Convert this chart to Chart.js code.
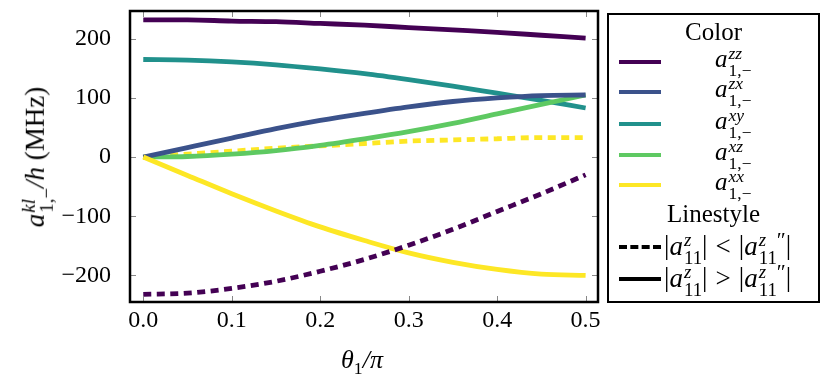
<!DOCTYPE html>
<html lang="en">
<head>
  <meta charset="UTF-8" />
  <title>a_1,- components vs theta</title>
  <script src="https://cdn.jsdelivr.net/npm/chart.js"></script>
  <style>
    body {
      margin: 0;
      background: #fff;
      font-family: "Liberation Serif", serif;
    }
    .wrap {
      position: relative;
      width: 831px;
      height: 388px;
    }
    .m { font-style: italic; white-space: nowrap; }
    .ss {
      display: inline-block;
      vertical-align: -0.5em;
      line-height: 0.95;
      font-size: 0.7em;
      margin-left: 1px;
      text-align: left;
    }
    .ss span { display: block; }
    .up { font-style: normal; }
    .pr { font-style: normal; font-size: 0.8em; vertical-align: 0.35em; margin-left: 0; }
    .op { margin: 0 8px; }
    #ytitle {
      position: absolute;
      left: 38px;
      top: 157px;
      transform: translate(-50%, -50%) rotate(-90deg);
      font-size: 27px;
      white-space: nowrap;
    }
    #xtitle {
      position: absolute;
      left: 362px;
      top: 362px;
      transform: translate(-50%, -50%);
      font-size: 26px;
    }
    #legend {
      position: absolute;
      left: 607px;
      top: 13px;
      width: 209px;
      height: 286px;
      border: 2.5px solid #000;
      font-size: 25px;
    }
    .lrow {
      position: absolute;
      left: 0;
      width: 100%;
      height: 30px;
    }
    .sw {
      position: absolute;
      left: 10px;
      top: 13px;
      width: 42px;
      height: 0;
    }
    .lab {
      position: absolute;
      top: 50%;
      transform: translateY(-50%);
      white-space: nowrap;
    }
    .big { font-size: 27px; }
    .head {
      position: absolute;
      width: 100%;
      text-align: center;
    }
  </style>
</head>
<body>
  <div class="wrap">
    <canvas id="chart" width="831" height="388"></canvas>
    <div id="ytitle"><span class="m">a<span class="ss"><span>kl</span><span class="up">1,−</span></span></span><span class="m">/h</span> <span class="up">(MHz)</span></div>
    <div id="xtitle"><span class="m">θ</span><span style="font-size:0.68em;vertical-align:-0.3em">1</span><span class="m">/π</span></div>
    <div id="legend"></div>
  </div>

  <script>
    const thetas = [0, 0.05, 0.1, 0.15, 0.2, 0.25, 0.3, 0.35, 0.4, 0.45, 0.5];

    const zzSolid  = [232, 232, 230, 229, 226, 223, 219, 215, 211, 206, 201];
    const zzDashed = [-232, -230, -222, -210, -193, -173, -149, -122, -92, -62, -30];
    const zxSolid  = [0, 16, 32, 48, 62, 74, 85, 94, 100, 104, 105];
    const xySolid  = [165, 164, 161, 156, 149, 141, 131, 120, 108, 96, 83];
    const xzSolid  = [0, 1, 5, 11, 20, 31, 43, 57, 73, 89, 105];
    const xxDashed = [0, 5, 10, 15, 19, 23, 27, 29, 31, 33, 33];
    const xxSolid  = [0, -31, -62, -91, -118, -141, -162, -178, -190, -198, -200];

    const colorNames = ['zz', 'zx', 'xy', 'xz', 'xx'];
    const colors = ['#440154', '#3b528b', '#21918c', '#5ec962', '#fde725'];
    const xTicks = [0, 0.1, 0.2, 0.3, 0.4, 0.5];
    const yTicks = [-200, -100, 0, 100, 200];

    const DASH = [8, 5.5];

    function mk(values, ci, dashed) {
      return {
        data: thetas.map((t, i) => ({ x: t, y: values[i] })),
        borderColor: colors[ci],
        borderWidth: 4.8,
        borderDash: dashed ? DASH : [],
        borderCapStyle: 'butt',
        pointRadius: 0,
        fill: false,
        cubicInterpolationMode: 'monotone'
      };
    }

    // draw order roughly as in the figure
    const datasets = [
      mk(zzDashed, 0, true),
      mk(zzSolid, 0, false),
      mk(xxSolid, 4, false),
      mk(zxSolid, 1, false),
      mk(xzSolid, 3, false),
      mk(xySolid, 2, false),
      mk(xxDashed, 4, true)
    ];

    // frame + inward ticks, matplotlib style
    const frame = {
      id: 'frame',
      afterDatasetsDraw(chart) {
        const { ctx, chartArea: a, scales } = chart;
        ctx.save();
        ctx.strokeStyle = '#888';
        ctx.lineWidth = 1;
        ctx.beginPath();
        xTicks.forEach(v => {
          const px = Math.round(scales.x.getPixelForValue(v)) + 0.5;
          ctx.moveTo(px, a.bottom); ctx.lineTo(px, a.bottom - 6);
          ctx.moveTo(px, a.top); ctx.lineTo(px, a.top + 6);
        });
        yTicks.forEach(v => {
          const py = Math.round(scales.y.getPixelForValue(v)) + 0.5;
          ctx.moveTo(a.left, py); ctx.lineTo(a.left + 6, py);
          ctx.moveTo(a.right, py); ctx.lineTo(a.right - 6, py);
        });
        ctx.stroke();
        ctx.strokeStyle = '#000';
        ctx.lineWidth = 2.5;
        ctx.strokeRect(a.left, a.top, a.right - a.left, a.bottom - a.top);
        ctx.restore();
      }
    };

    const font = { family: '"Liberation Serif", serif', size: 24 };

    new Chart(document.getElementById('chart'), {
      type: 'line',
      data: { datasets },
      options: {
        responsive: false,
        animation: false,
        layout: { padding: { left: 0, top: 11, right: 233, bottom: 0 } },
        plugins: { legend: { display: false }, tooltip: { enabled: false } },
        scales: {
          x: {
            type: 'linear',
            min: -0.015,
            max: 0.514,
            afterFit(s) { s.height = 86; s.paddingLeft = 0; s.paddingRight = 0; },
            afterBuildTicks(s) { s.ticks = xTicks.map(v => ({ value: v })); },
            grid: { display: false },
            border: { display: false },
            ticks: {
              padding: -4,
              maxRotation: 0,
              autoSkip: false,
              color: '#000',
              font,
              callback: v => Number(v).toFixed(1)
            }
          },
          y: {
            min: -245,
            max: 247,
            afterFit(s) { s.width = 130; s.paddingTop = 0; s.paddingBottom = 0; },
            afterBuildTicks(s) { s.ticks = yTicks.map(v => ({ value: v })); },
            grid: { display: false },
            border: { display: false },
            ticks: {
              padding: 11,
              autoSkip: false,
              color: '#000',
              font,
              callback: v => v < 0 ? '−' + Math.abs(v) : String(v)
            }
          }
        }
      },
      plugins: [frame]
    });

    // legend box (row centres measured from the inner top edge)
    const leg = document.getElementById('legend');
    const rowY = [47, 77, 109, 140, 170];
    let html = '<div class="head" style="top:3px">Color</div>';
    colorNames.forEach((n, i) => {
      html += '<div class="lrow" style="top:' + (rowY[i] - 15) + 'px">' +
        '<div class="sw" style="border-top:4.8px solid ' + colors[i] + '"></div>' +
        '<div class="lab" style="left:106px"><span class="m">a<span class="ss"><span>' + n +
        '</span><span class="up">1,−</span></span></span></div></div>';
    });
    html += '<div class="head" style="top:185px">Linestyle</div>';
    const absA = '|<span class="m">a<span class="ss"><span>z</span><span class="up">11</span></span></span>|';
    const absA2 = '|<span class="m">a<span class="ss"><span>z</span><span class="up">11</span></span></span><span class="pr">″</span>|';
    const lsRows = [
      { y: 232, dash: 'dashed', txt: absA + '<span class="op">&lt;</span>' + absA2 },
      { y: 264, dash: 'solid', txt: absA + '<span class="op">&gt;</span>' + absA2 }
    ];
    lsRows.forEach(r => {
      html += '<div class="lrow" style="top:' + (r.y - 15) + 'px">' +
        '<div class="sw" style="border-top:4.8px ' + r.dash + ' #000"></div>' +
        '<div class="lab big" style="left:55px">' + r.txt + '</div></div>';
    });
    leg.innerHTML = html;
  </script>
</body>
</html>
